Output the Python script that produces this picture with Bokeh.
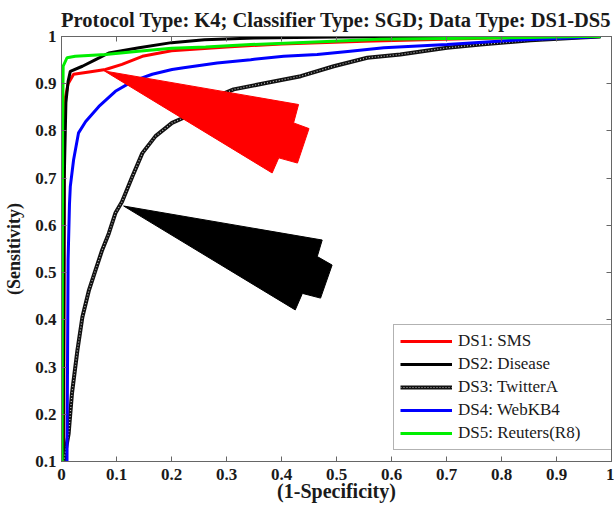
import math
from bokeh.plotting import figure
from bokeh.models import (Legend, LegendItem, LinearAxis, FixedTicker,
                          CustomJSTickFormatter, Range1d)
from bokeh.embed import file_html
from bokeh.resources import INLINE

# ---------------- data ----------------
title_text = "Protocol Type: K4; Classifier Type: SGD; Data Type: DS1-DS5"
x_label = "(1-Specificity)"
y_label = "(Sensitivity)"

x_ticks = [0, 0.1, 0.2, 0.3, 0.4, 0.5, 0.6, 0.7, 0.8, 0.9, 1]
y_ticks = [0.1, 0.2, 0.3, 0.4, 0.5, 0.6, 0.7, 0.8, 0.9, 1]

names = ["DS1: SMS", "DS2: Disease", "DS3: TwitterA", "DS4: WebKB4", "DS5: Reuters(R8)"]

ds1_x = [0.004, 0.005, 0.005, 0.007, 0.012, 0.022, 0.05, 0.08, 0.11, 0.147, 0.20, 0.30, 0.40, 0.55, 0.75, 0.98]
ds1_y = [0.10, 0.60, 0.845, 0.87, 0.90, 0.92, 0.925, 0.930, 0.941, 0.958, 0.970, 0.978, 0.984, 0.99, 0.996, 1.0]

ds2_x = [0.003, 0.005, 0.008, 0.012, 0.016, 0.038, 0.062, 0.086, 0.141, 0.20, 0.26, 0.35, 0.5, 0.7, 0.98]
ds2_y = [0.10, 0.70, 0.86, 0.905, 0.926, 0.937, 0.951, 0.965, 0.976, 0.987, 0.993, 0.997, 0.999, 1.0, 1.0]

ds3_x = [0.004, 0.013, 0.019, 0.029, 0.038, 0.050, 0.062, 0.074, 0.086, 0.098, 0.110, 0.129,
         0.147, 0.171, 0.201, 0.222, 0.262, 0.313, 0.374, 0.435, 0.495, 0.556, 0.616, 0.701,
         0.762, 0.853, 0.944, 0.98]
ds3_y = [0.100, 0.159, 0.244, 0.336, 0.406, 0.463, 0.506, 0.548, 0.583, 0.626, 0.650, 0.704,
         0.753, 0.789, 0.817, 0.828, 0.863, 0.888, 0.902, 0.916, 0.937, 0.955, 0.962, 0.976,
         0.983, 0.992, 0.998, 1.0]

ds4_x = [0.010, 0.012, 0.0145, 0.016, 0.022, 0.031, 0.044, 0.068, 0.098, 0.129, 0.165, 0.201,
         0.222, 0.283, 0.344, 0.404, 0.465, 0.525, 0.586, 0.701, 0.822, 0.944, 0.98]
ds4_y = [0.10, 0.527, 0.645, 0.682, 0.739, 0.796, 0.820, 0.852, 0.884, 0.905, 0.920, 0.930,
         0.934, 0.944, 0.951, 0.958, 0.962, 0.969, 0.976, 0.983, 0.992, 0.998, 1.0]

ds5_x = [0.001, 0.002, 0.003, 0.010, 0.025, 0.08, 0.14, 0.20, 0.262, 0.344, 0.45, 0.58, 0.7, 0.85, 0.944, 0.98]
ds5_y = [0.10, 0.80, 0.937, 0.955, 0.958, 0.962, 0.969, 0.975, 0.978, 0.983, 0.988, 0.994, 0.996, 0.998, 1.0, 1.0]

# arrow annotations (polygon vertices in data units)
red_arrow_x = [0.078, 0.431, 0.422, 0.450, 0.429, 0.395, 0.383]
red_arrow_y = [0.927, 0.856, 0.817, 0.805, 0.732, 0.743, 0.711]
black_arrow_x = [0.113, 0.474, 0.465, 0.492, 0.471, 0.438, 0.425]
black_arrow_y = [0.641, 0.569, 0.534, 0.516, 0.446, 0.456, 0.421]

# ---------------- figure ----------------
FONT = "Liberation Serif"
AXC = "#666666"
TXT = "#1a1a1a"

p = figure(width=614, height=511, x_range=Range1d(0, 1), y_range=Range1d(0.1, 1),
           output_backend="svg", toolbar_location=None,
           min_border_left=61, min_border_right=3, min_border_top=10, min_border_bottom=50)
p.grid.visible = False
p.outline_line_color = AXC
p.background_fill_color = "white"
p.border_fill_color = "white"

p.title.text = title_text
p.title.align = "center"
p.title.text_font = FONT
p.title.text_font_style = "bold"
p.title.text_font_size = "20.5px"
p.title.text_color = TXT
p.title.standoff = 12

fmt = CustomJSTickFormatter(code="""
if (Math.abs(tick) < 1e-9) return "0";
if (Math.abs(tick - 1) < 1e-9) return "1";
return tick.toFixed(1);
""")
blank_fmt = CustomJSTickFormatter(code='return "";')

def style_axis(ax, ticks, show_labels, standoff=8):
    ax.ticker = FixedTicker(ticks=ticks)
    ax.axis_line_color = AXC
    ax.major_tick_line_color = AXC
    ax.major_tick_in = 5
    ax.major_tick_out = 0
    ax.minor_tick_line_color = None
    ax.major_label_text_font = FONT
    ax.major_label_text_font_style = "bold"
    ax.major_label_text_color = TXT
    if show_labels:
        ax.formatter = fmt
        ax.major_label_text_font_size = "17px"
        ax.major_label_standoff = standoff
    else:
        ax.formatter = blank_fmt
        ax.major_label_standoff = 0

style_axis(p.xaxis[0], x_ticks, True, 7)
style_axis(p.yaxis[0], y_ticks, True, 5)

for ax, lab, so, fs in ((p.xaxis[0], x_label, -3, "20px"), (p.yaxis[0], y_label, 8, "18px")):
    ax.axis_label = lab
    ax.axis_label_text_font = FONT
    ax.axis_label_text_font_style = "bold"
    ax.axis_label_text_font_size = fs
    ax.axis_label_text_color = TXT
    ax.axis_label_standoff = so

top_ax = LinearAxis()
style_axis(top_ax, x_ticks, False)
p.add_layout(top_ax, "above")
right_ax = LinearAxis()
style_axis(right_ax, y_ticks, False)
p.add_layout(right_ax, "right")

# ---------------- curves ----------------
r1 = p.line(ds1_x, ds1_y, line_color="#FF0000", line_width=3)
r2 = p.line(ds2_x, ds2_y, line_color="#000000", line_width=3)
r3a = p.line(ds3_x, ds3_y, line_color="#111111", line_width=4)
r3b = p.line(ds3_x, ds3_y, line_color="#bbbbbb", line_width=1.2, line_dash="1 2")
r4 = p.line(ds4_x, ds4_y, line_color="#0000FF", line_width=3)
r5 = p.line(ds5_x, ds5_y, line_color="#00EE00", line_width=3)

# arrows
p.patch(red_arrow_x, red_arrow_y, fill_color="#FF0000", line_color="#FF0000", line_width=1)
p.patch(black_arrow_x, black_arrow_y, fill_color="#000000", line_color="#000000", line_width=1)

# ---------------- legend ----------------
items = [LegendItem(label=names[0], renderers=[r1]),
         LegendItem(label=names[1], renderers=[r2]),
         LegendItem(label=names[2], renderers=[r3a, r3b]),
         LegendItem(label=names[3], renderers=[r4]),
         LegendItem(label=names[4], renderers=[r5])]
legend = Legend(items=items, location=(332, 11), orientation="vertical",
                glyph_width=52, glyph_height=20, label_height=20, label_width=147,
                spacing=3, padding=6, label_standoff=6, margin=0,
                label_text_font=FONT, label_text_font_size="17px", label_text_color=TXT,
                border_line_color=AXC, border_line_width=1,
                background_fill_color="white", background_fill_alpha=1.0)
p.add_layout(legend, "center")

open("out.html", "w").write(file_html(p, INLINE))
